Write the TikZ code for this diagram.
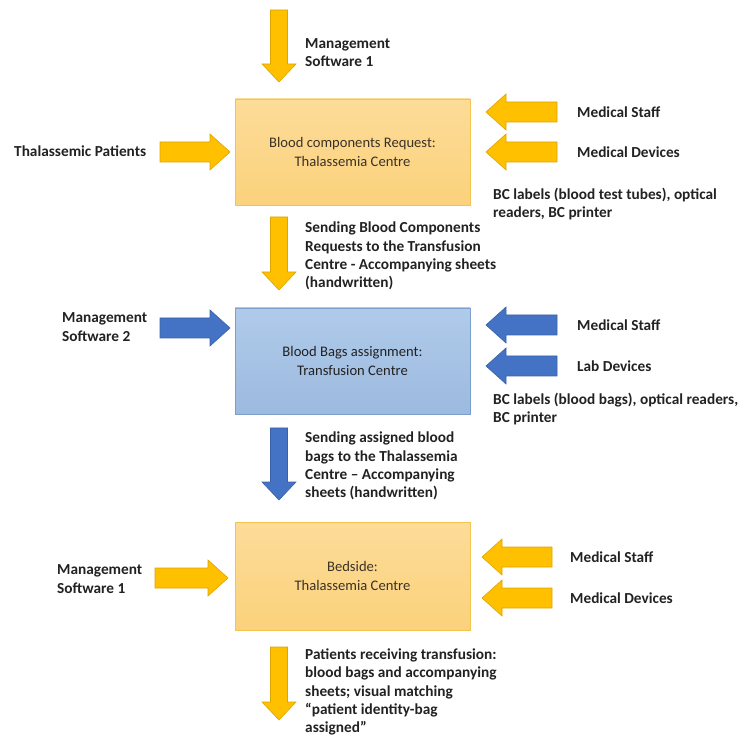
\documentclass[tikz,border=0pt]{standalone}
\usepackage{fontspec}
\setmainfont{Carlito}
\definecolor{orA}{HTML}{FFC000}
\definecolor{orE}{HTML}{DDA500}
\definecolor{blA}{HTML}{4472C4}
\definecolor{blE}{HTML}{3A62A8}
\definecolor{obT}{HTML}{FDDC98}
\definecolor{obB}{HTML}{FBD27C}
\definecolor{obE}{HTML}{F4C453}
\definecolor{bbT}{HTML}{B0CBEA}
\definecolor{bbB}{HTML}{9CBADF}
\definecolor{bbE}{HTML}{7C9FCB}
\definecolor{txt}{HTML}{222222}
\definecolor{btxt}{HTML}{3B3226}
\newcommand\bkdown[4]{% x, ytop, ytip, colour
  \filldraw[fill=#4A, draw=#4E, line width=0.6pt]
    (#1-8.5,#2) -- (#1+8.5,#2) -- (#1+8.5,#3-18) -- (#1+17,#3-18) -- (#1,#3)
    -- (#1-17,#3-18) -- (#1-8.5,#3-18) -- cycle;}
\newcommand\bkright[4]{% xtail, xtip, y, colour
  \filldraw[fill=#4A, draw=#4E, line width=0.6pt]
    (#1,#3-10) -- (#2-20,#3-10) -- (#2-20,#3-18) -- (#2,#3) -- (#2-20,#3+18)
    -- (#2-20,#3+10) -- (#1,#3+10) -- cycle;}
\newcommand\bkleft[4]{% xtail, xtip, y, colour
  \filldraw[fill=#4A, draw=#4E, line width=0.6pt]
    (#1,#3-10) -- (#2+20,#3-10) -- (#2+20,#3-18) -- (#2,#3) -- (#2+20,#3+18)
    -- (#2+20,#3+10) -- (#1,#3+10) -- cycle;}
\begin{document}
\begin{tikzpicture}[x=1pt,y=-1pt,
  lbl/.style={anchor=west, align=left, inner sep=0pt, text=txt,
    font=\fontsize{15.3}{18.2}\selectfont\bfseries},
  obox/.style={draw=obE, line width=0.8pt, top color=obT, bottom color=obB,
    minimum width=235pt, minimum height=106pt, align=center, text=btxt,
    font=\fontsize{14.6}{19.5}\selectfont},
  bbox/.style={obox, draw=bbE, top color=bbT, bottom color=bbB, text=txt}]
\useasboundingbox (0,0) rectangle (740,738);
\fill[white] (0,0) rectangle (740,738);

% boxes
\node[obox] (b1) at (352.5,152) {Blood components Request:\\Thalassemia Centre};
\node[bbox] (b2) at (352.5,361) {Blood Bags assignment:\\Transfusion Centre};
\node[obox, minimum height=108pt] (b3) at (352.5,576) {Bedside:\\Thalassemia Centre};

% arrows
\bkdown{279}{10}{82}{or}
\bkdown{279}{217}{290}{or}
\bkdown{279}{428}{500}{bl}
\bkdown{279}{647}{720}{or}

\bkright{160}{230}{152}{or}
\bkright{160}{230}{328}{bl}
\bkright{155}{228}{578}{or}

\bkleft{557}{486}{112}{or}
\bkleft{557}{486}{152}{or}
\bkleft{557}{486}{325}{bl}
\bkleft{557}{486}{366}{bl}
\bkleft{552}{482}{557}{or}
\bkleft{552}{482}{598}{or}

% labels
\node[lbl] (t1) at (305,52.5) {Management\\Software 1};
\node[lbl] (tp) at (14,151) {Thalassemic Patients};
\node[lbl] (ms1) at (577,112) {Medical Staff};
\node[lbl] (md1) at (577,152) {Medical Devices};
\node[lbl] (bc1) at (493,204) {BC labels (blood test tubes), optical\\readers, BC printer};
\node[lbl] (s1) at (305,256) {Sending Blood Components\\Requests to the Transfusion\\Centre - Accompanying sheets\\(handwritten)};

\node[lbl] (m2) at (62,327) {Management\\Software 2};
\node[lbl] (ms2) at (577,325) {Medical Staff};
\node[lbl] (ld2) at (577,366) {Lab Devices};
\node[lbl] (bc2) at (493,409) {BC labels (blood bags), optical readers,\\BC printer};
\node[lbl] (s2) at (305,466) {Sending assigned blood\\bags to the Thalassemia\\Centre -- Accompanying\\sheets (handwritten)};

\node[lbl] (m3) at (57,579) {Management\\Software 1};
\node[lbl] (ms3) at (570,557) {Medical Staff};
\node[lbl] (md3) at (570,598) {Medical Devices};
\node[lbl] (s3) at (305,692) {Patients receiving transfusion:\\blood bags and accompanying\\sheets; visual matching\\“patient identity-bag\\assigned”};
\end{tikzpicture}
\end{document}
